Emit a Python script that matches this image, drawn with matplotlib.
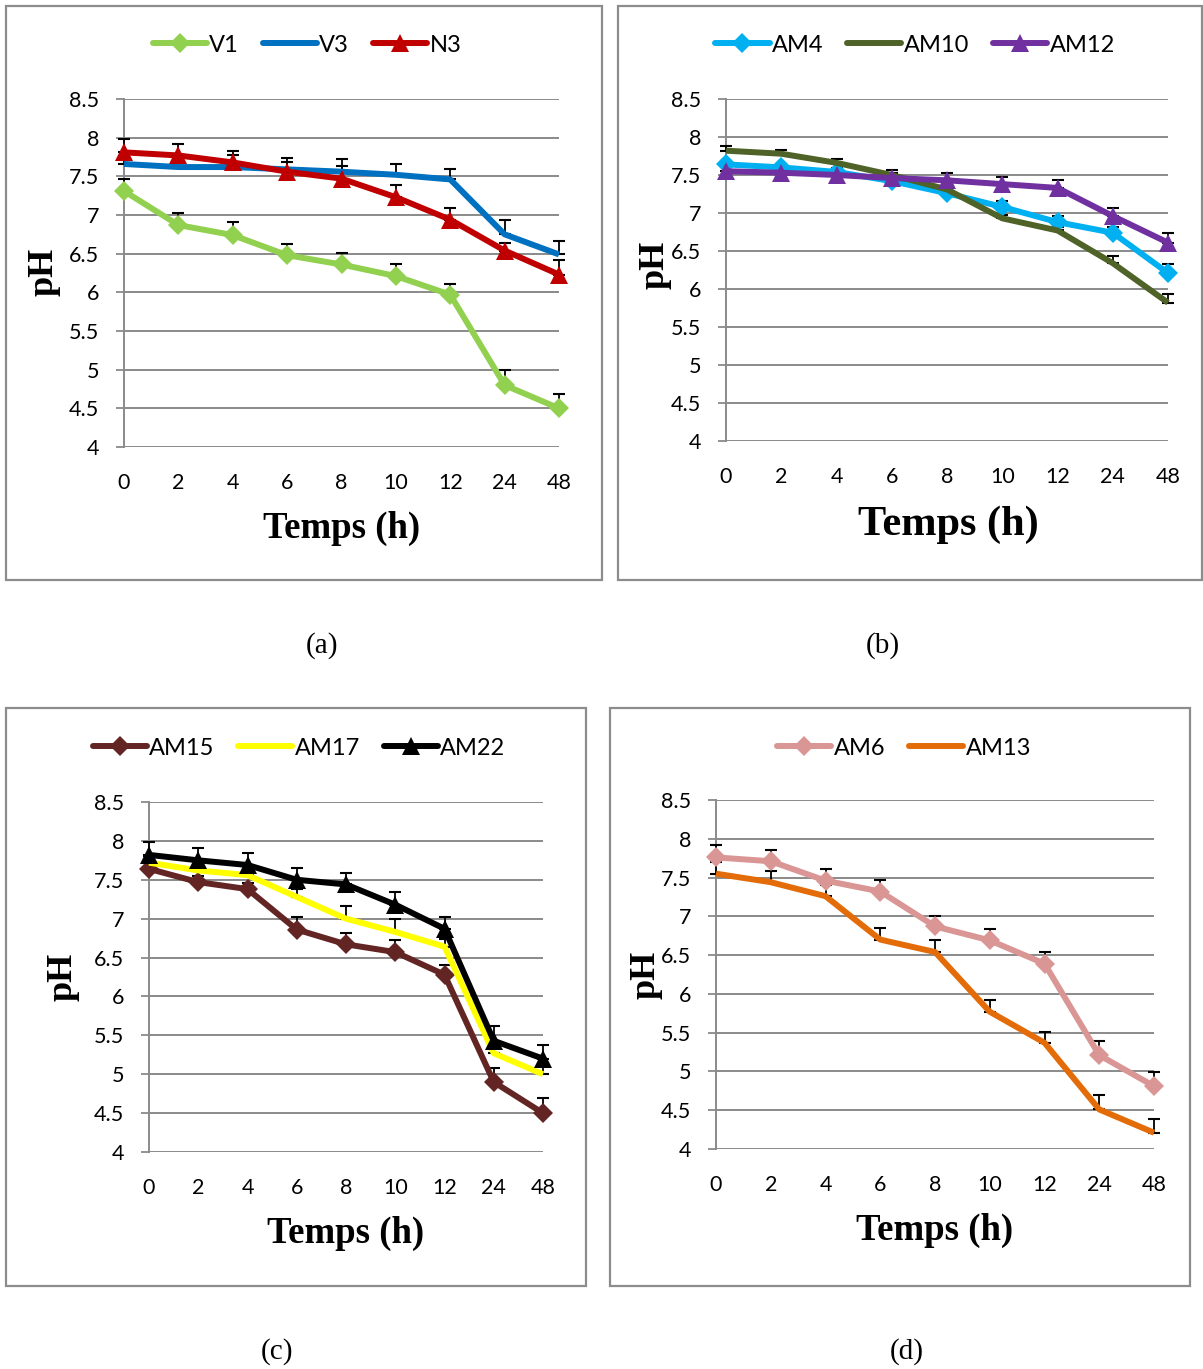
import matplotlib
matplotlib.use("Agg")
import matplotlib.pyplot as plt
from matplotlib.patches import Rectangle

W, H = 1203, 1369
DPI = 100

# ---------------- data ----------------
times = ['0', '2', '4', '6', '8', '10', '12', '24', '48']
y_ticks = [4, 4.5, 5, 5.5, 6, 6.5, 7, 7.5, 8, 8.5]

V1 = [7.31, 6.87, 6.74, 6.48, 6.36, 6.21, 5.97, 4.80, 4.50]
V1_err = [0.16, 0.15, 0.17, 0.15, 0.15, 0.15, 0.14, 0.19, 0.18]
V3 = [7.66, 7.62, 7.62, 7.59, 7.56, 7.52, 7.46, 6.75, 6.49]
V3_err = [0.05, 0.05, 0.16, 0.10, 0.16, 0.14, 0.14, 0.19, 0.18]
N3 = [7.81, 7.77, 7.68, 7.56, 7.47, 7.23, 6.94, 6.54, 6.23]
N3_err = [0.17, 0.15, 0.15, 0.18, 0.17, 0.16, 0.15, 0.10, 0.19]

AM4 = [7.64, 7.60, 7.54, 7.42, 7.26, 7.08, 6.88, 6.74, 6.21]
AM4_err = [0.05, 0.05, 0.05, 0.05, 0.05, 0.075, 0.08, 0.07, 0.12]
AM10 = [7.82, 7.78, 7.66, 7.50, 7.31, 6.93, 6.77, 6.34, 5.82]
AM10_err = [0.06, 0.05, 0.05, 0.06, 0.05, 0.05, 0.05, 0.09, 0.11]
AM12 = [7.55, 7.53, 7.50, 7.46, 7.43, 7.38, 7.33, 6.96, 6.61]
AM12_err = [0.05, 0.05, 0.05, 0.06, 0.09, 0.09, 0.10, 0.10, 0.13]

AM15 = [7.64, 7.47, 7.38, 6.86, 6.67, 6.57, 6.28, 4.90, 4.50]
AM15_err = [0.08, 0.08, 0.08, 0.16, 0.15, 0.16, 0.13, 0.18, 0.19]
AM17 = [7.72, 7.62, 7.56, 7.28, 7.00, 6.83, 6.64, 5.27, 5.00]
AM17_err = [0.08, 0.08, 0.08, 0.10, 0.16, 0.16, 0.10, 0.10, 0.10]
AM22 = [7.82, 7.75, 7.69, 7.50, 7.44, 7.18, 6.87, 5.43, 5.20]
AM22_err = [0.17, 0.16, 0.15, 0.15, 0.15, 0.16, 0.15, 0.19, 0.18]

AM6 = [7.76, 7.71, 7.46, 7.32, 6.87, 6.69, 6.39, 5.21, 4.81]
AM6_err = [0.16, 0.15, 0.15, 0.15, 0.14, 0.15, 0.15, 0.18, 0.18]
AM13 = [7.55, 7.44, 7.26, 6.70, 6.54, 5.77, 5.37, 4.51, 4.21]
AM13_err = [0.15, 0.15, 0.15, 0.15, 0.155, 0.15, 0.14, 0.18, 0.18]

panel_a = [("V1", V1, V1_err, "#92D050", "D"),
           ("V3", V3, V3_err, "#0070C0", None),
           ("N3", N3, N3_err, "#C00000", "^")]
panel_b = [("AM4", AM4, AM4_err, "#00B0F0", "D"),
           ("AM10", AM10, AM10_err, "#4F6228", None),
           ("AM12", AM12, AM12_err, "#7030A0", "^")]
panel_c = [("AM15", AM15, AM15_err, "#632523", "D"),
           ("AM17", AM17, AM17_err, "#FFFF00", None),
           ("AM22", AM22, AM22_err, "#000000", "^")]
panel_d = [("AM6", AM6, AM6_err, "#D99694", "D"),
           ("AM13", AM13, AM13_err, "#E36C09", None)]

SANS = ["Lato", "DejaVu Sans"]
SERIF = ["Liberation Serif", "DejaVu Serif"]
GRID = "#8a8a8a"

fig = plt.figure(figsize=(W / DPI, H / DPI), dpi=DPI)


def fx(x):
    return x / W


def fy(y):
    return 1 - y / H


def panel(series, box, axbox, leg_c, xl_c, xl_size, yl_c, cap_c, cap_text):
    # outer frame
    bx0, by0, bx1, by1 = box
    fig.patches.append(Rectangle((fx(bx0), fy(by1)), fx(bx1 - bx0), (by1 - by0) / H,
                                 transform=fig.transFigure, fill=False,
                                 edgecolor="#8c8c8c", linewidth=1.6))
    l, t, r, b = axbox
    ax = fig.add_axes([fx(l), fy(b), fx(r - l), (b - t) / H])
    x = list(range(len(times)))
    for name, vals, err, col, mk in series:
        ax.errorbar(x, vals, yerr=[[0] * len(err), err], fmt="none",
                    ecolor="black", elinewidth=1.3, capsize=4.5, capthick=1.5,
                    zorder=3, clip_on=False)
        ax.plot(x, vals, color=col, linewidth=4.3, marker=mk,
                markersize=(10 if mk == "D" else 13), markeredgewidth=0,
                label=name, zorder=4, clip_on=False, solid_joinstyle="round",
                solid_capstyle="butt")
    ax.set_xlim(0, len(times) - 1)
    ax.set_ylim(4, 8.5)
    ax.set_yticks(y_ticks)
    ax.set_yticklabels([f"{v:g}" for v in y_ticks], fontfamily=SANS, fontsize=15.5)
    ax.set_xticks(x)
    ax.set_xticklabels(times, fontfamily=SANS, fontsize=15.5)
    ax.tick_params(axis="x", length=0, pad=19)
    ax.tick_params(axis="y", length=6, width=1.3, color=GRID, pad=12)
    ax.grid(axis="y", color=GRID, linewidth=1.4, zorder=0)
    ax.set_axisbelow(True)
    for s in ("top", "right", "bottom"):
        ax.spines[s].set_visible(False)
    ax.spines["left"].set_color(GRID)
    ax.spines["left"].set_linewidth(1.4)
    leg = ax.legend(loc="center", bbox_to_anchor=(fx(leg_c[0]), fy(leg_c[1])),
                    bbox_transform=fig.transFigure, ncol=len(series), frameon=False,
                    prop={"family": SANS, "size": 17}, handlelength=2.3,
                    handletextpad=0.1, columnspacing=1.0, numpoints=1,
                    borderaxespad=0, borderpad=0)
    for h in leg.legend_handles:
        h.set_solid_capstyle("round")
    fig.text(fx(xl_c[0]), fy(xl_c[1]), "Temps (h)", ha="center", va="center",
             fontfamily=SERIF, fontweight="bold", fontsize=xl_size)
    fig.text(fx(yl_c[0]), fy(yl_c[1]), "pH", ha="center", va="center", rotation=90,
             fontfamily=SERIF, fontweight="bold", fontsize=26)
    fig.text(fx(cap_c[0]), fy(cap_c[1]), cap_text, ha="center", va="center",
             fontfamily=SERIF, fontsize=21)
    return ax


panel(panel_a, (6, 6, 602, 580), (124, 99, 559, 447), (307, 45), (342, 528), 26.5,
      (44, 272), (322, 646), "(a)")
panel(panel_b, (618, 6, 1202, 580), (726, 99, 1168, 441), (915, 45), (948, 525), 30.5,
      (655, 265), (883, 646), "(b)")
panel(panel_c, (6, 708, 586, 1286), (149, 802, 543, 1152), (299, 748), (346, 1233), 26.5,
      (63, 977), (277, 1352), "(c)")
panel(panel_d, (610, 708, 1190, 1286), (716, 800, 1154, 1149), (904, 748), (935, 1230), 26.5,
      (646, 975), (907, 1352), "(d)")

fig.savefig("out.png", dpi=DPI, facecolor="white")
